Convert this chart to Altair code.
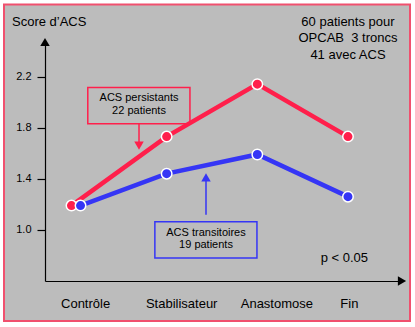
import altair as alt
import pandas as pd

# ---- data ----
stages = ["Contrôle", "Stabilisateur", "Anastomose", "Fin"]
persistants = [1.19, 1.73, 2.14, 1.73]
transitoires = [1.19, 1.44, 1.59, 1.26]
series_names = ["ACS persistants", "ACS transitoires"]
dodge = [-0.05, 0.05]          # small horizontal dodge at the overlapping first stage
label_pos = [0.1, 1.16, 2.21, 3.01]   # where the stage names sit along the x axis
y_ticks = [1.0, 1.4, 1.8, 2.2]
colors = ["#FF1F4B", "#3535F5"]

rows = []
for s, vals, d in zip(series_names, [persistants, transitoires], dodge):
    for i, (st, v) in enumerate(zip(stages, vals)):
        rows.append({"serie": s, "stage": st, "xi": i + (d if i == 0 else 0.0), "v": v})
df = pd.DataFrame(rows)

W, H = 415, 327
FONT = "Liberation Sans"
XDOM = [-0.342, 3.596]
YDOM = [0.6, 2.47]
xs = alt.Scale(domain=XDOM, range=[45, 402], nice=False, zero=False)
ys = alt.Scale(domain=YDOM, range=[281, 42], nice=False, zero=False)

frame = alt.Chart(pd.DataFrame({"a": [0]})).mark_rect(
    fill="#BCBCBC", stroke="#F0506E", strokeWidth=2
).encode(x=alt.value(4), x2=alt.value(410), y=alt.value(4.5), y2=alt.value(321))

label_expr = "[" + ",".join("'" + s + "'" for s in stages) + "][round(datum.value)]"

color = alt.Color("serie:N", scale=alt.Scale(domain=series_names, range=colors), legend=None)

lines = alt.Chart(df).mark_line(strokeWidth=4.5).encode(
    x=alt.X("xi:Q", scale=xs, axis=alt.Axis(
        values=label_pos, labelExpr=label_expr, ticks=False, grid=False,
        domain=True, domainColor="black", domainWidth=1.2, offset=-46, zindex=1,
        labelFont=FONT, labelFontSize=13, labelColor="black", labelPadding=16,
        title=None)),
    y=alt.Y("v:Q", scale=ys, axis=alt.Axis(
        values=y_ticks, format=".1f", grid=False, offset=-45, zindex=1,
        domain=True, domainColor="black", domainWidth=1.2,
        tickColor="black", tickSize=8, tickWidth=1.2,
        labelFont=FONT, labelFontSize=11, labelColor="black", labelPadding=6,
        title=None)),
    color=color,
    detail="serie:N",
)

points = alt.Chart(df).mark_point(filled=True, size=110, stroke="white", strokeWidth=1.5, opacity=1).encode(
    x=alt.X("xi:Q", scale=xs), y=alt.Y("v:Q", scale=ys),
    fill=alt.Fill("serie:N", scale=alt.Scale(domain=series_names, range=colors), legend=None),
)

# axis arrowheads at the ends of the axes
heads = pd.DataFrame({"x": [XDOM[0], XDOM[1]], "y": [YDOM[1], YDOM[0]], "shape": ["triangle-up", "triangle-right"]})
arrowheads = alt.Chart(heads).mark_point(filled=True, color="black", size=90, opacity=1).encode(
    x=alt.X("x:Q", scale=xs), y=alt.Y("y:Q", scale=ys),
    shape=alt.Shape("shape:N", scale=None),
)

# annotation boxes
boxes = pd.DataFrame({
    "x1": [0.13, 0.87], "x2": [1.257, 1.996],
    "y1": [2.114, 1.063], "y2": [1.831, 0.78],
    "c": colors,
})
box_layer = alt.Chart(boxes).mark_rect(fill="#BCBCBC", strokeWidth=1.5).encode(
    x=alt.X("x1:Q", scale=xs), x2="x2:Q", y=alt.Y("y1:Q", scale=ys), y2="y2:Q",
    stroke=alt.Stroke("c:N", scale=None),
)
box_text = pd.DataFrame({
    "x": [0.695, 0.695, 1.434, 1.434],
    "y": [2.03, 1.93, 0.975, 0.88],
    "t": ["ACS persistants", "22 patients", "ACS transitoires", "19 patients"],
})
box_text_layer = alt.Chart(box_text).mark_text(font=FONT, fontSize=11, color="black").encode(
    x=alt.X("x:Q", scale=xs), y=alt.Y("y:Q", scale=ys), text="t:N")

# annotation arrows
arrows = pd.DataFrame({"x": [0.695, 1.434], "y1": [1.831, 1.118], "y2": [1.68, 1.39], "c": colors})
arrow_lines = alt.Chart(arrows).mark_rule(strokeWidth=1.5).encode(
    x=alt.X("x:Q", scale=xs), y=alt.Y("y1:Q", scale=ys), y2="y2:Q",
    color=alt.Color("c:N", scale=None))
tips = pd.DataFrame({"x": [0.695, 1.434], "y": [1.66, 1.41], "shape": ["triangle-down", "triangle-up"], "c": colors})
arrow_tips = alt.Chart(tips).mark_point(filled=True, size=90, opacity=1).encode(
    x=alt.X("x:Q", scale=xs), y=alt.Y("y:Q", scale=ys),
    shape=alt.Shape("shape:N", scale=None), fill=alt.Fill("c:N", scale=None))

# free texts
notes = pd.DataFrame({
    "x": [3.0, 3.0, 3.0, 2.96],
    "y": [2.63, 2.5, 2.37, 0.78],
    "t": ["60 patients pour", "OPCAB\u00a0\u00a03 troncs", "41 avec ACS", "p < 0.05"],
})
notes_layer = alt.Chart(notes).mark_text(font=FONT, fontSize=13, color="black").encode(
    x=alt.X("x:Q", scale=xs), y=alt.Y("y:Q", scale=ys), text="t:N")

ytitle = alt.Chart(pd.DataFrame({"x": [XDOM[0]], "y": [2.63], "t": ["Score d’ACS"]})).mark_text(
    font=FONT, fontSize=13, color="black", align="left", dx=-33).encode(
    x=alt.X("x:Q", scale=xs), y=alt.Y("y:Q", scale=ys), text="t:N")

chart = alt.layer(
    frame, box_layer, arrow_lines, arrow_tips, box_text_layer, lines, points,
    arrowheads, notes_layer, ytitle
).properties(
    width=W, height=H, autosize=alt.AutoSizeParams(type="none"), padding=0, background="white"
).configure_view(stroke=None).resolve_scale(
    color="independent", fill="independent", stroke="independent", shape="independent")

chart.save("out.html", embed_options={"renderer": "svg", "actions": False})
